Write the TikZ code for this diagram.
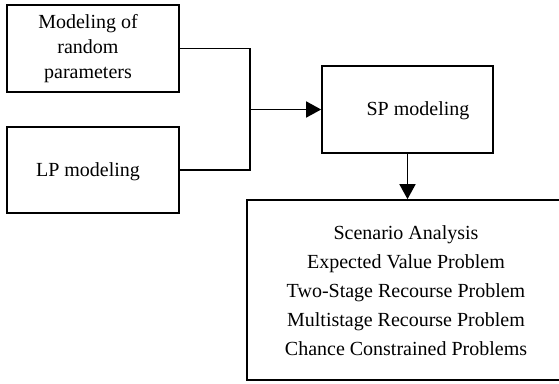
\documentclass[tikz,border=0pt]{standalone}
\usepackage{fontspec}
\setmainfont{Liberation Serif}
\usetikzlibrary{arrows.meta}
\begin{document}
\begin{tikzpicture}[x=1pt, y=-1pt,
  box/.style={draw, line width=1.7pt, inner sep=0pt},
  label text/.style={align=center, inner sep=0pt, font=\fontsize{20}{25}\selectfont},
  link/.style={line width=1.7pt},
  arrowed/.style={link, -{Triangle[length=15pt, width=16pt]}}]
\useasboundingbox (0,0) rectangle (559,383);

% input boxes
\node[box, minimum width=172pt, minimum height=87pt] (rand) at (93,48.5) {};
\node[label text] at (88,49) {Modeling of\\random\\parameters};
\node[box, minimum width=172pt, minimum height=86pt] (lp) at (93,170) {};
\node[label text] at (88,172) {LP modeling};

% stochastic programming model
\node[box, minimum width=171pt, minimum height=87pt] (sp) at (407.5,109.5) {};
\node[label text] at (418,111) {SP modeling};

% resulting problem classes
\node[box, minimum width=319pt, minimum height=180pt] (res) at (406.5,290) {};
\node[label text, font=\fontsize{20}{29}\selectfont] at (406,291)
  {Scenario Analysis\\Expected Value Problem\\Two-Stage Recourse Problem\\Multistage Recourse Problem\\Chance Constrained Problems};

% connectors
\coordinate (j) at (249,109.5);
\draw[link] (rand.east) -- ++(70,0) |- (lp.east);
\draw[arrowed] (j) -- (sp.west);
\draw[arrowed] (sp.south) -- (sp.south|-res.north);
\end{tikzpicture}
\end{document}
